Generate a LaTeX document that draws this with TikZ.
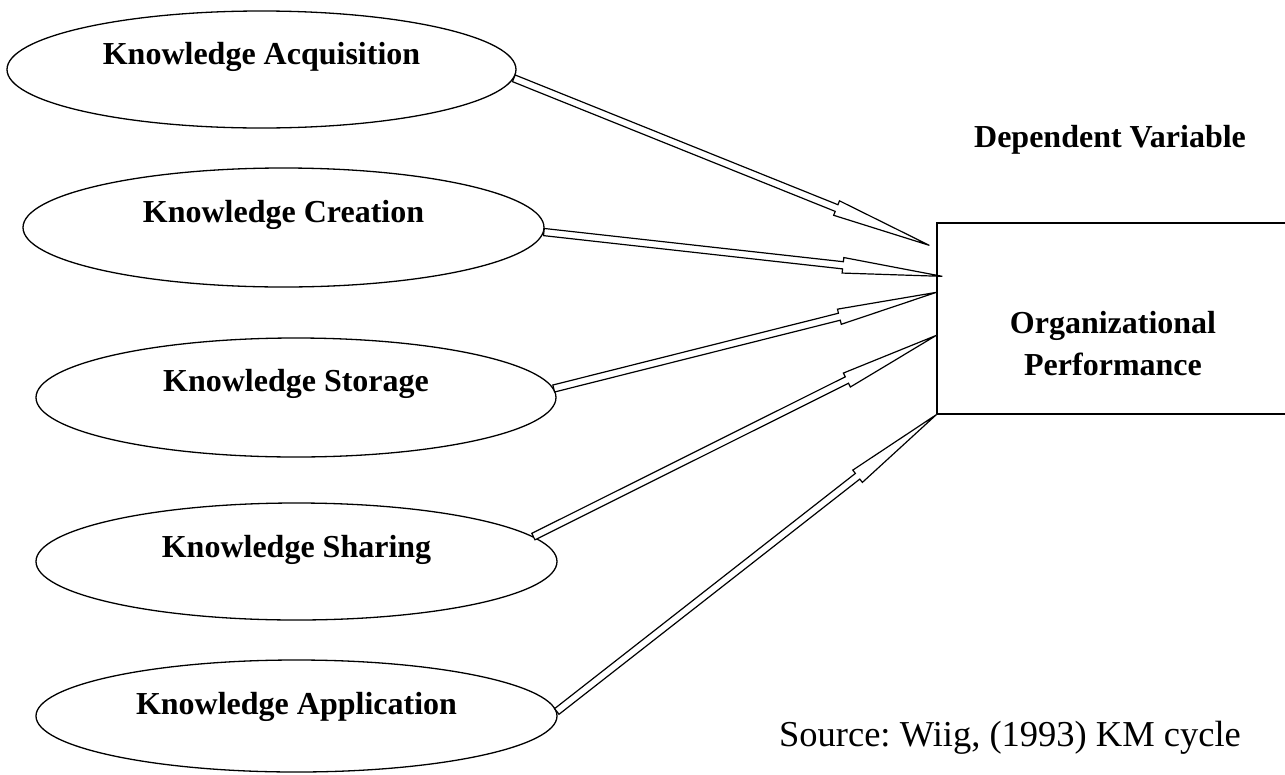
\documentclass[tikz,border=0pt]{standalone}
\usepackage{fontspec}
\setmainfont{Liberation Serif}
\usetikzlibrary{shapes.geometric,calc}
\frenchspacing
\tikzset{
  kell/.style={draw, line width=1.3pt, shape=ellipse, inner sep=0pt},
  klab/.style={font=\fontsize{32}{38}\selectfont\bfseries, inner sep=0pt},
  harr/.style={draw, fill=white, line width=1.2pt, line join=miter}
}
\newcommand\harrow[3]{%
  \path coordinate (n#3) at ($(#2)!100pt!(#1)$);
  \path[harr] ($(#1)!3.6pt!90:(#2)$) -- ($(n#3)!3.6pt!90:(#2)$) -- ($(n#3)!7.8pt!90:(#2)$)
    -- (#2) -- ($(n#3)!7.8pt!-90:(#2)$) -- ($(n#3)!3.6pt!-90:(#2)$) -- ($(#1)!3.6pt!-90:(#2)$) -- cycle;
}
\begin{document}
\begin{tikzpicture}[x=1pt,y=-1pt]
\useasboundingbox (0,0) rectangle (1285,774);
\clip (0,0) rectangle (1285,774);
\fill[white] (0,0) rectangle (1285,774);
% ellipses
\node[kell, minimum width=509pt, minimum height=117pt] (e1) at (261.5,69.5) {};
\node[kell, minimum width=521pt, minimum height=119pt] (e2) at (283.5,227.5) {};
\node[kell, minimum width=520pt, minimum height=119pt] (e3) at (296,397.5) {};
\node[kell, minimum width=521pt, minimum height=117pt] (e4) at (296.5,561.5) {};
\node[kell, minimum width=521pt, minimum height=112pt] (e5) at (296.5,716) {};
\node[klab] (l1) at (261.5,57) {Knowledge Acquisition};
\node[klab] (l2) at (283.5,215) {Knowledge Creation};
\node[klab] (l3) at (296,384) {Knowledge Storage};
\node[klab] (l4) at (296.5,550) {Knowledge Sharing};
\node[klab] (l5) at (296.5,707) {Knowledge Application};
% box
\node[draw, line width=1.3pt, minimum width=352pt, minimum height=191pt, inner sep=0pt] (box) at (1113,318.5) {};
\node[klab, align=center, font=\fontsize{32}{42}\selectfont\bfseries] (op) at (1113,344) {Organizational\\Performance};
\node[klab] (dv) at (1110,140) {Dependent Variable};
\node[inner sep=0pt, font=\fontsize{36.5}{42}\selectfont] (src) at (1010,738) {Source: Wiig, (1993) KM cycle};
% tips
\coordinate (t1) at ($(box.north west)+(-7,23)$);
\coordinate (t2) at ($(box.north west)+(6,54)$);
\coordinate (t3) at ($(box.north west)+(0,70)$);
\coordinate (t4) at ($(box.north west)+(0,113)$);
\coordinate (t5) at (box.south west);
\coordinate (s1) at (e1.-2);
\coordinate (s2) at (e2.-1);
\coordinate (s3) at (e3.2);
\coordinate (s4) at (e4.6);
\coordinate (s5) at (e5.1);
\harrow{s1}{t1}{a}
\harrow{s2}{t2}{b}
\harrow{s3}{t3}{c}
\harrow{s4}{t4}{d}
\harrow{s5}{t5}{e}
\end{tikzpicture}
\end{document}
